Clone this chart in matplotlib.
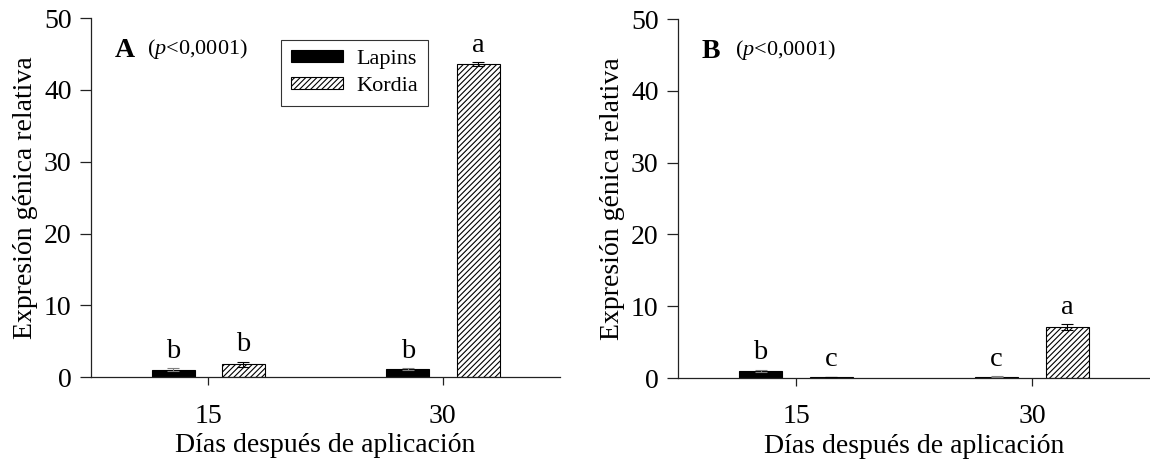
import matplotlib
matplotlib.use("Agg")
import matplotlib.pyplot as plt
import numpy as np

plt.rcParams['font.family'] = ['Liberation Serif', 'DejaVu Serif']
plt.rcParams['hatch.linewidth'] = 0.8
plt.rcParams['mathtext.fontset'] = 'custom'
plt.rcParams['mathtext.rm'] = 'Liberation Serif'
plt.rcParams['mathtext.it'] = 'Liberation Serif:italic'

days = [15, 30]
series = ["Lapins", "Kordia"]

# Panel A
a_lapins = [1.0, 1.1]
a_lapins_err = [0.2, 0.15]
a_kordia = [1.8, 43.6]
a_kordia_err = [0.35, 0.3]
a_letters_lapins = ["b", "b"]
a_letters_kordia = ["b", "a"]

# Panel B
b_lapins = [1.0, 0.2]
b_lapins_err = [0.15, 0.05]
b_kordia = [0.15, 7.1]
b_kordia_err = [0.05, 0.4]
b_letters_lapins = ["b", "c"]
b_letters_kordia = ["c", "a"]

yticks = [0, 10, 20, 30, 40, 50]
panel_labels = ["A", "B"]
xlabel = "Días después de aplicación"
ylabel = "Expresión génica relativa"

fig = plt.figure(figsize=(11.5, 4.65), dpi=100)
axA = fig.add_axes([0.0791, 0.189, 0.408, 0.772])
axB = fig.add_axes([0.5896, 0.187, 0.4104, 0.772])

width = 2.75
offset = 2.25

def draw(ax, lap, lap_e, kor, kor_e, let_l, let_k, label, legend):
    x = np.array(days, dtype=float)
    ax.bar(x - offset, lap, width, color='black', edgecolor='black',
           linewidth=0.8, label=series[0], zorder=2)
    ax.bar(x + offset, kor, width, color='white', edgecolor='black',
           hatch='//////', linewidth=0.8, label=series[1], zorder=2)
    ax.errorbar(x - offset, lap, yerr=lap_e, fmt='none', ecolor='gray',
                elinewidth=0.8, capsize=4, capthick=0.8, zorder=3)
    ax.errorbar(x + offset, kor, yerr=kor_e, fmt='none', ecolor='black',
                elinewidth=0.8, capsize=4, capthick=0.8, zorder=3)
    for xi, v, e, t in zip(x - offset, lap, lap_e, let_l):
        ax.text(xi, v + e + 0.6, t, ha='center', va='bottom', fontsize=20.5)
    for xi, v, e, t in zip(x + offset, kor, kor_e, let_k):
        ax.text(xi, v + e + 0.6, t, ha='center', va='bottom', fontsize=20.5)
    ax.set_xlim(7.5, 37.5)
    ax.set_ylim(0, 50)
    ax.set_xticks(days)
    ax.set_xticklabels([str(d) for d in days])
    ax.set_yticks(yticks)
    ax.spines['top'].set_visible(False)
    ax.spines['right'].set_visible(False)
    for s in ('left', 'bottom'):
        ax.spines[s].set_linewidth(0.9)
        ax.spines[s].set_color('#222222')
    ax.tick_params(axis='both', direction='out', labelsize=20, width=0.9,
                   color='#222222')
    ax.tick_params(axis='x', length=6, pad=13)
    ax.tick_params(axis='y', length=8, pad=6)
    ax.set_xlabel(xlabel, fontsize=20, labelpad=3)
    ax.set_ylabel(ylabel, fontsize=20, labelpad=4)
    ax.text(0.05, 0.91, label, transform=ax.transAxes, fontsize=20,
            fontweight='bold', va='center', ha='left')
    ax.text(0.12, 0.915, r"($\mathit{p}$<0,0001)", transform=ax.transAxes,
            fontsize=16, va='center', ha='left')
    if legend:
        leg = ax.legend(loc='upper left', bbox_to_anchor=(0.405, 0.94),
                        fontsize=16, frameon=True, fancybox=False,
                        edgecolor='black', handlelength=2.35, handleheight=0.5,
                        borderpad=0.45, labelspacing=0.35, handletextpad=0.6,
                        borderaxespad=0)
        leg.get_frame().set_linewidth(0.8)

draw(axA, a_lapins, a_lapins_err, a_kordia, a_kordia_err,
     a_letters_lapins, a_letters_kordia, panel_labels[0], True)
draw(axB, b_lapins, b_lapins_err, b_kordia, b_kordia_err,
     b_letters_lapins, b_letters_kordia, panel_labels[1], False)

fig.savefig("out.png", dpi=100)
